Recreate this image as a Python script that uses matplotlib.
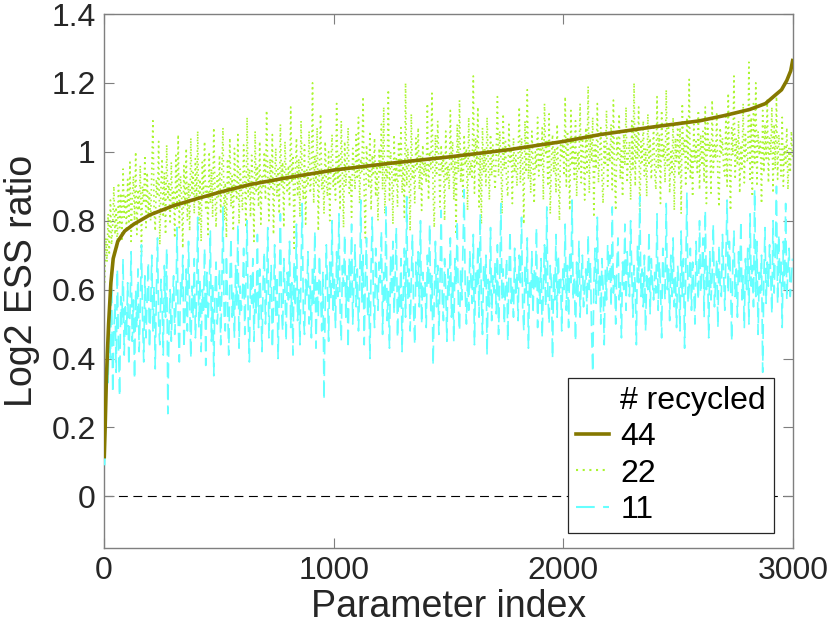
import numpy as np
import matplotlib
matplotlib.use("Agg")
import matplotlib.pyplot as plt
from matplotlib.lines import Line2D

plt.rcParams['font.family'] = ['Liberation Sans', 'DejaVu Sans']

# ---- data ----
olive_idx = [1, 5, 10, 15, 20, 30, 40, 60, 90, 130, 200, 300, 400, 500, 635, 800,
             1000, 1250, 1500, 1750, 2000, 2160, 2400, 2594, 2700, 2812, 2880,
             2920, 2950, 2973, 2990, 3000]
olive_val = [0.11, 0.20, 0.33, 0.42, 0.50, 0.62, 0.69, 0.74, 0.77, 0.79, 0.817,
             0.843, 0.863, 0.882, 0.905, 0.925, 0.947, 0.967, 0.985, 1.005, 1.03,
             1.05, 1.073, 1.09, 1.105, 1.123, 1.14, 1.163, 1.18, 1.207, 1.235, 1.27]

noisy_idx = list(range(3, 3000, 5))

cyan_val = [
    0.09, 0.28, 0.45, 0.33, 0.52, 0.40, 0.61, 0.30, 0.48, 0.56, 0.36, 0.66, 0.44, 0.29, 0.58, 0.50, 0.69, 0.41, 0.55, 0.47,
    0.62, 0.38, 0.53, 0.71, 0.45, 0.57, 0.34, 0.60, 0.49, 0.66, 0.42, 0.55, 0.73, 0.51, 0.39, 0.64, 0.46, 0.58, 0.68, 0.43,
    0.54, 0.70, 0.48, 0.61, 0.37, 0.59, 0.75, 0.50, 0.44, 0.63, 0.56, 0.41, 0.67, 0.52, 0.72, 0.24, 0.49, 0.60, 0.45, 0.57,
    0.64, 0.47, 0.55, 0.78, 0.51, 0.39, 0.62, 0.58, 0.70, 0.43, 0.53, 0.66, 0.48, 0.74, 0.56, 0.40, 0.61, 0.52, 0.69, 0.46,
    0.57, 0.81, 0.49, 0.63, 0.42, 0.60, 0.54, 0.72, 0.38, 0.65, 0.51, 0.58, 0.77, 0.45, 0.62, 0.35, 0.59, 0.68, 0.50, 0.56,
    0.66, 0.44, 0.60, 0.84, 0.53, 0.48, 0.70, 0.57, 0.41, 0.63, 0.75, 0.52, 0.59, 0.46, 0.67, 0.55, 0.79, 0.43, 0.61, 0.54,
    0.58, 0.72, 0.47, 0.62, 0.80, 0.51, 0.39, 0.64, 0.56, 0.69, 0.45, 0.60, 0.53, 0.76, 0.49, 0.66, 0.57, 0.42, 0.63, 0.71,
    0.50, 0.61, 0.78, 0.46, 0.59, 0.67, 0.43, 0.55, 0.73, 0.52, 0.64, 0.40, 0.58, 0.82, 0.54, 0.48, 0.69, 0.60, 0.45, 0.65,
    0.57, 0.74, 0.49, 0.62, 0.41, 0.68, 0.55, 0.79, 0.51, 0.60, 0.44, 0.66, 0.85, 0.53, 0.47, 0.63, 0.58, 0.71, 0.50, 0.61,
    0.46, 0.67, 0.56, 0.77, 0.43, 0.62, 0.52, 0.70, 0.59, 0.48, 0.65, 0.28, 0.55, 0.73, 0.61, 0.45, 0.68, 0.57, 0.80, 0.53,
    0.63, 0.49, 0.71, 0.58, 0.82, 0.54, 0.45, 0.67, 0.61, 0.76, 0.52, 0.64, 0.43, 0.69, 0.57, 0.79, 0.50, 0.62, 0.73, 0.55,
    0.66, 0.48, 0.60, 0.86, 0.56, 0.70, 0.44, 0.63, 0.75, 0.52, 0.59, 0.40, 0.67, 0.81, 0.58, 0.49, 0.72, 0.61, 0.54, 0.68,
    0.62, 0.77, 0.47, 0.65, 0.56, 0.84, 0.51, 0.60, 0.43, 0.70, 0.58, 0.74, 0.53, 0.64, 0.78, 0.46, 0.61, 0.55, 0.69, 0.42,
    0.59, 0.72, 0.52, 0.87, 0.57, 0.66, 0.48, 0.63, 0.76, 0.54, 0.44, 0.68, 0.60, 0.71, 0.55, 0.80, 0.50, 0.65, 0.58, 0.62,
    0.49, 0.70, 0.61, 0.79, 0.53, 0.64, 0.38, 0.58, 0.74, 0.55, 0.67, 0.47, 0.62, 0.83, 0.57, 0.51, 0.69, 0.60, 0.45, 0.66,
    0.58, 0.75, 0.52, 0.63, 0.45, 0.69, 0.61, 0.80, 0.55, 0.48, 0.66, 0.57, 0.72, 0.89, 0.59, 0.50, 0.64, 0.54, 0.71, 0.62,
    0.56, 0.76, 0.44, 0.65, 0.60, 0.73, 0.52, 0.82, 0.58, 0.47, 0.67, 0.61, 0.70, 0.41, 0.63, 0.55, 0.78, 0.51, 0.64, 0.59,
    0.68, 0.53, 0.73, 0.47, 0.62, 0.85, 0.57, 0.66, 0.50, 0.60, 0.69, 0.45, 0.64, 0.77, 0.56, 0.61, 0.52, 0.72, 0.58, 0.65,
    0.51, 0.70, 0.62, 0.81, 0.55, 0.48, 0.67, 0.59, 0.75, 0.43, 0.63, 0.57, 0.71, 0.53, 0.66, 0.60, 0.78, 0.49, 0.64, 0.56,
    0.69, 0.46, 0.61, 0.73, 0.55, 0.84, 0.58, 0.50, 0.67, 0.62, 0.40, 0.65, 0.57, 0.76, 0.52, 0.70, 0.59, 0.63, 0.48, 0.66,
    0.60, 0.79, 0.54, 0.67, 0.49, 0.71, 0.62, 0.86, 0.57, 0.64, 0.45, 0.68, 0.58, 0.74, 0.52, 0.63, 0.70, 0.55, 0.61, 0.66,
    0.53, 0.76, 0.60, 0.68, 0.48, 0.36, 0.62, 0.72, 0.56, 0.81, 0.58, 0.65, 0.50, 0.69, 0.61, 0.44, 0.66, 0.57, 0.73, 0.63,
    0.70, 0.55, 0.84, 0.59, 0.64, 0.50, 0.67, 0.75, 0.57, 0.62, 0.46, 0.68, 0.60, 0.79, 0.54, 0.71, 0.63, 0.58, 0.80, 0.65,
    0.52, 0.67, 0.61, 0.44, 0.73, 0.62, 0.87, 0.58, 0.66, 0.55, 0.70, 0.48, 0.64, 0.60, 0.77, 0.53, 0.69, 0.62, 0.57, 0.65,
    0.59, 0.82, 0.54, 0.68, 0.61, 0.46, 0.72, 0.63, 0.57, 0.85, 0.60, 0.66, 0.51, 0.70, 0.58, 0.75, 0.55, 0.64, 0.49, 0.67,
    0.62, 0.48, 0.77, 0.58, 0.69, 0.43, 0.65, 0.88, 0.56, 0.61, 0.72, 0.54, 0.68, 0.60, 0.50, 0.74, 0.63, 0.57, 0.80, 0.59,
    0.66, 0.75, 0.52, 0.83, 0.60, 0.67, 0.46, 0.71, 0.57, 0.64, 0.79, 0.55, 0.62, 0.69, 0.49, 0.73, 0.61, 0.58, 0.76, 0.65,
    0.54, 0.70, 0.86, 0.59, 0.74, 0.63, 0.45, 0.68, 0.77, 0.58, 0.66, 0.52, 0.71, 0.62, 0.80, 0.57, 0.64, 0.49, 0.69, 0.60,
    0.72, 0.50, 0.82, 0.61, 0.67, 0.55, 0.89, 0.58, 0.74, 0.47, 0.65, 0.59, 0.70, 0.36, 0.63, 0.78, 0.56, 0.68, 0.61, 0.73,
    0.64, 0.53, 0.80, 0.59, 0.71, 0.90, 0.56, 0.76, 0.62, 0.68, 0.49, 0.74, 0.60, 0.85, 0.57, 0.66, 0.72, 0.58, 0.63, 0.69,
]

green_val = [
    0.62, 0.75, 0.68, 0.82, 0.70, 0.86, 0.73, 0.79, 0.90, 0.76, 0.84, 0.72, 0.91, 0.78, 0.88, 0.74, 0.95, 0.81, 0.87, 0.77,
    0.92, 0.79, 0.97, 0.74, 0.86, 0.93, 0.80, 1.00, 0.76, 0.89, 0.83, 0.96, 0.71, 0.90, 0.85, 0.99, 0.78, 0.94, 0.82, 0.88,
    0.80, 0.95, 1.09, 0.84, 0.77, 0.92, 0.87, 1.03, 0.73, 0.90, 0.98, 0.81, 0.94, 0.76, 1.02, 0.86, 0.91, 0.79, 0.97, 0.85,
    0.89, 0.75, 0.99, 0.83, 1.05, 0.78, 0.93, 0.87, 0.72, 0.96, 0.84, 1.01, 0.80, 0.91, 0.77, 1.04, 0.88, 0.94, 0.82, 0.98,
    0.86, 1.06, 0.79, 0.92, 0.74, 0.97, 0.88, 1.03, 0.83, 0.90, 0.76, 1.00, 0.85, 0.95, 0.81, 1.07, 0.89, 0.78, 0.93, 0.87,
    0.99, 0.82, 0.94, 1.07, 0.80, 0.91, 0.75, 0.98, 0.88, 1.04, 0.84, 0.93, 0.77, 1.01, 0.90, 0.86, 1.05, 0.79, 0.95, 0.89,
    0.83, 1.02, 0.92, 0.78, 1.10, 0.87, 0.95, 0.81, 0.99, 0.91, 0.74, 1.06, 0.88, 0.96, 0.84, 1.03, 0.79, 0.93, 0.90, 1.00,
    0.86, 1.12, 0.94, 0.80, 0.98, 0.89, 1.05, 0.76, 0.92, 1.01, 0.87, 0.95, 0.82, 1.08, 0.90, 0.97, 0.78, 1.03, 0.93, 0.88,
    0.96, 0.84, 1.13, 0.91, 0.99, 0.72, 0.94, 1.04, 0.87, 0.98, 0.81, 1.09, 0.92, 0.86, 1.02, 0.79, 0.95, 0.90, 1.06, 0.88,
    0.93, 1.20, 0.85, 0.99, 0.91, 1.07, 0.77, 0.96, 1.11, 0.89, 0.94, 0.82, 1.03, 0.92, 0.87, 1.00, 0.80, 0.97, 1.05, 0.90,
    0.95, 0.86, 1.14, 0.91, 0.99, 0.83, 1.09, 0.94, 0.78, 1.03, 0.90, 0.97, 1.07, 0.88, 0.93, 0.81, 1.01, 0.96, 0.89, 1.05,
    0.92, 1.10, 0.85, 0.98, 0.94, 1.16, 0.88, 0.75, 1.02, 0.95, 0.90, 1.06, 0.83, 0.99, 0.93, 1.04, 0.87, 0.96, 0.80, 1.01,
    0.94, 1.08, 0.89, 1.13, 0.82, 0.97, 0.92, 1.18, 0.86, 1.00, 0.95, 0.79, 1.05, 0.91, 0.98, 0.84, 1.03, 0.93, 1.07, 0.88,
    0.96, 0.81, 1.20, 0.90, 1.01, 0.94, 0.77, 1.11, 0.92, 0.98, 0.85, 1.04, 0.95, 1.07, 0.89, 0.99, 0.83, 1.02, 0.93, 0.97,
    0.91, 1.14, 0.86, 1.00, 0.95, 1.17, 0.88, 0.78, 1.05, 0.93, 1.09, 0.97, 0.84, 1.02, 0.94, 0.99, 0.80, 1.06, 0.92, 0.96,
    0.89, 1.12, 0.95, 1.03, 0.86, 0.99, 0.76, 1.08, 0.94, 1.15, 0.91, 0.98, 0.87, 1.05, 0.96, 1.01, 0.83, 1.10, 0.93, 0.97,
    0.92, 1.22, 0.88, 1.04, 0.96, 1.13, 0.84, 0.99, 0.79, 1.07, 0.94, 1.01, 0.90, 1.10, 0.97, 0.86, 1.05, 0.93, 1.02, 0.95,
    0.89, 1.00, 1.16, 0.93, 1.06, 0.98, 0.82, 1.11, 0.95, 1.03, 0.91, 0.87, 1.08, 0.97, 1.01, 0.85, 1.04, 0.94, 0.99, 0.90,
    0.98, 1.13, 0.91, 1.04, 0.96, 0.79, 1.09, 0.94, 1.18, 0.92, 1.02, 0.88, 1.06, 0.97, 0.85, 1.00, 0.95, 1.10, 0.93, 1.03,
    0.96, 1.07, 0.86, 1.14, 0.99, 1.03, 0.90, 1.11, 0.82, 0.97, 1.05, 0.94, 1.01, 0.88, 1.08, 0.95, 0.80, 1.02, 0.98, 1.04,
    0.93, 1.16, 0.90, 1.06, 0.98, 0.83, 1.12, 0.96, 1.03, 0.92, 1.09, 0.87, 1.00, 0.95, 1.14, 0.91, 1.04, 0.99, 0.86, 1.07,
    0.94, 1.19, 0.88, 1.05, 0.97, 1.10, 0.81, 1.02, 0.95, 1.14, 0.91, 0.99, 1.07, 0.93, 0.85, 1.03, 0.96, 1.12, 0.90, 1.01,
    0.97, 1.08, 0.89, 1.15, 0.94, 0.83, 1.04, 0.98, 1.11, 0.92, 1.01, 0.87, 1.06, 0.96, 1.13, 0.91, 0.99, 1.03, 0.86, 1.09,
    0.95, 1.20, 0.90, 1.06, 0.98, 1.13, 0.80, 1.03, 0.97, 1.09, 0.93, 1.01, 0.87, 1.11, 0.96, 1.04, 0.92, 0.99, 1.07, 0.94,
    0.89, 1.16, 0.95, 1.05, 0.85, 1.12, 0.98, 1.02, 0.91, 1.18, 0.96, 1.07, 0.88, 1.00, 0.94, 1.10, 0.83, 1.04, 0.97, 1.08,
    0.93, 1.07, 0.82, 1.14, 0.99, 1.04, 0.90, 1.10, 0.95, 1.21, 0.92, 1.01, 0.87, 1.08, 0.97, 1.03, 0.94, 1.12, 0.89, 1.05,
    0.96, 1.06, 0.91, 1.13, 0.85, 1.09, 1.00, 1.03, 0.88, 1.15, 0.94, 1.02, 0.98, 1.11, 0.92, 0.84, 1.07, 0.99, 1.04, 0.95,
    0.93, 1.11, 0.90, 1.17, 0.97, 0.83, 1.07, 0.99, 1.22, 0.92, 1.04, 0.96, 1.09, 0.88, 1.02, 0.95, 1.14, 0.91, 1.05, 0.98,
    0.97, 1.26, 0.92, 1.10, 0.87, 1.14, 0.96, 1.20, 0.90, 1.06, 0.99, 1.03, 0.85, 1.12, 0.94, 1.08, 0.98, 1.15, 0.91, 1.04,
    0.99, 1.13, 0.88, 1.08, 0.95, 1.16, 0.92, 1.05, 1.00, 0.93, 1.10, 0.90, 1.02, 0.96, 1.07, 0.89, 1.01, 0.94, 1.06, 0.98,
]

labels = ['44', '22', '11']
legend_title = '# recycled'
xticks = [0, 1000, 2000, 3000]
yticks = [0, 0.2, 0.4, 0.6, 0.8, 1.0, 1.2, 1.4]
yticklabels = ['0', '0.2', '0.4', '0.6', '0.8', '1', '1.2', '1.4']

c_olive = '#857800'
c_green = '#aaf530'
c_cyan = '#66ffff'

fig = plt.figure(figsize=(8.3, 6.42), dpi=100)
ax = fig.add_axes([104/830, 94/642, 689/830, 534/642])

ax.axhline(0, color='black', lw=0.8, dashes=(8, 5), zorder=1)
lg, = ax.plot(noisy_idx, green_val, color=c_green, lw=1.2, dashes=(1, 2.2), zorder=2)
lc, = ax.plot(noisy_idx, cyan_val, color=c_cyan, lw=1.2, dashes=(9, 4), zorder=3)
lo, = ax.plot(olive_idx, olive_val, color=c_olive, lw=2.6, zorder=4,
              solid_capstyle='butt')

ax.set_xlim(0, 3000)
ax.set_ylim(-0.15, 1.4)
ax.set_xticks(xticks)
ax.set_yticks(yticks)
ax.set_yticklabels(yticklabels)
ax.tick_params(direction='in', length=7, width=0.8, colors='#7f7f7f',
               labelcolor='#262626', labelsize=23, top=True, right=True, pad=6)
for s in ax.spines.values():
    s.set_color('#7f7f7f')
    s.set_linewidth(1.0)

ax.set_xlabel('Parameter index', fontsize=27, color='#262626', labelpad=2)
ax.set_ylabel('Log2 ESS ratio', fontsize=27, color='#262626', labelpad=8)

blank = Line2D([], [], color='none')
h_g = Line2D([], [], color=c_green, lw=1.5, dashes=(1, 2.2))
h_c = Line2D([], [], color=c_cyan, lw=1.5, dashes=(9, 4))
h_o = Line2D([], [], color=c_olive, lw=2.6)
leg = ax.legend([blank, h_o, h_g, h_c], [legend_title] + labels,
                loc='lower right', bbox_to_anchor=((774-104)/689, 15/534),
                borderaxespad=0, fontsize=23, frameon=True, fancybox=False,
                handlelength=1.05, handletextpad=0.35, labelspacing=0.2,
                borderpad=0.25)
leg.get_frame().set_edgecolor('#262626')
leg.get_frame().set_linewidth(0.9)
leg.get_frame().set_alpha(1)

fig.savefig('out.png', dpi=100)
